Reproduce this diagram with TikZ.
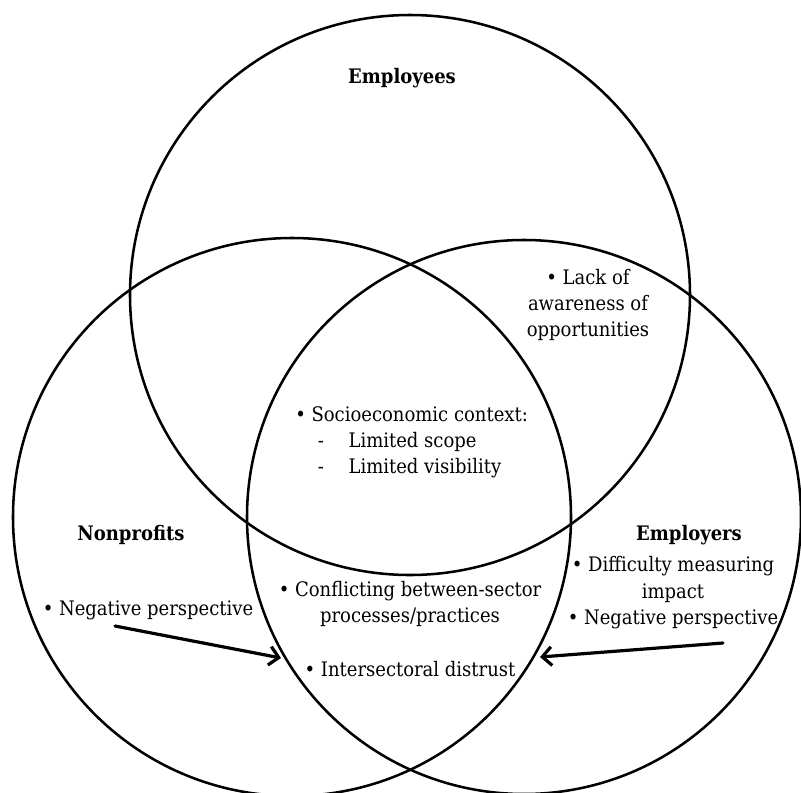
\documentclass[tikz,border=0pt]{standalone}
\usepackage{fontspec}
\setmainfont{DejaVu Serif Condensed}
\usetikzlibrary{arrows.meta}

\newcommand{\labelsize}{\fontsize{15}{19.8}\selectfont}

\tikzset{
	ring/.style={line width=1.9pt},
	setname/.style={font=\labelsize\bfseries},
	item/.style={align=center, inner sep=0pt},
	push/.style={line width=2.4pt, line cap=round, -{Straight Barb[length=7pt,width=14pt,line width=2.4pt]}}
}

\begin{document}
\begin{tikzpicture}[x=0.75pt, y=-0.75pt, font=\labelsize]
	\useasboundingbox (0,0) rectangle (801,793);
	% the three sets
	\draw[ring] (410,295) circle (280);
	\draw[ring] (292,517) circle (279);
	\draw[ring] (524,517) circle (277);

	% set names
	\node[setname] (employees) at (402,78) {Employees};
	\node[setname] (nonprofits) at (131,535) {Nonprofits};
	\node[setname] (employers) at (689,535) {Employers};

	% barriers in each region
	\node[item] (awareness) at (588,305) {\textbullet\ Lack of\\awareness of\\opportunities};
	\node[item, align=left, anchor=north west] (context) at (295,406)
		{\textbullet\ Socioeconomic context:\\
		\hspace*{17pt}\makebox[23pt][l]{-}Limited scope\\
		\hspace*{17pt}\makebox[23pt][l]{-}Limited visibility};
	\node[item] (conflict) at (410,604) {\textbullet\ Conflicting between-sector\\processes/practices};
	\node[item] (distrust) at (410,669) {\textbullet\ Intersectoral distrust};
	\node[item] (np-neg) at (148,610) {\textbullet\ Negative perspective};
	\node[item] (em-side) at (673,593) {\textbullet\ Difficulty measuring\\impact\\\textbullet\ Negative perspective};

	% both negative perspectives feed the distrust
	\coordinate (np-tail) at (115,626);
	\coordinate (np-head) at (281,658);
	\coordinate (em-tail) at (723,643);
	\coordinate (em-head) at (540,657);
	\draw[push] (np-tail) -- (np-head);
	\draw[push] (em-tail) -- (em-head);
\end{tikzpicture}
\end{document}
